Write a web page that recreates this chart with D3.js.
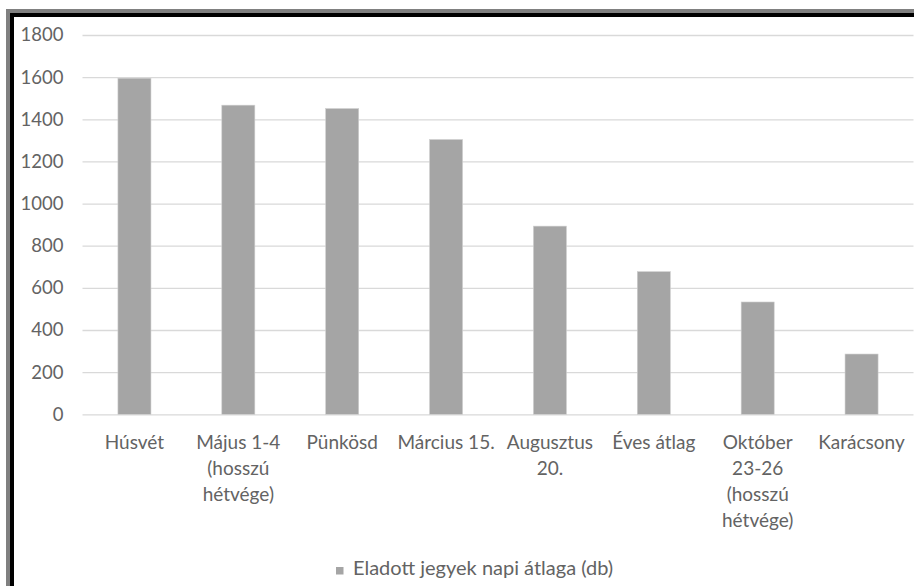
<!DOCTYPE html>
<html>
<head>
<meta charset="utf-8">
<script src="https://cdn.jsdelivr.net/npm/d3@7"></script>
<style>
  html, body { margin: 0; padding: 0; background: #fff; }
  svg { display: block; }
  text { font-family: Lato, "Open Sans", sans-serif; fill: #636363; }
</style>
</head>
<body>
<svg id="chart" width="914" height="586"></svg>
<script>
const categories = [
  ["Húsvét"],
  ["Május 1-4", "(hosszú", "hétvége)"],
  ["Pünkösd"],
  ["Március 15."],
  ["Augusztus", "20."],
  ["Éves átlag"],
  ["Október", "23-26", "(hosszú", "hétvége)"],
  ["Karácsony"]
];
const values = [1595, 1467, 1451, 1304, 893, 677, 533, 286];
const yTicks = [0, 200, 400, 600, 800, 1000, 1200, 1400, 1600, 1800];
const seriesName = "Eladott jegyek napi átlaga (db)";

const svg = d3.select("#chart");
const W = 914, H = 586;
const m = { left: 82.5, right: 913.5, top: 35, bottom: 414.3 };

// frame (cropped border)
svg.append("rect").attr("x", 8).attr("y", 11).attr("width", W + 20).attr("height", H + 20)
  .attr("fill", "none").attr("stroke", "#808080").attr("stroke-width", 4);
svg.append("rect").attr("x", 12).attr("y", 15).attr("width", W + 20).attr("height", H + 20)
  .attr("fill", "none").attr("stroke", "#000").attr("stroke-width", 4);

const keys = categories.map((c, i) => i);
const x = d3.scaleBand().domain(keys).range([m.left, m.right]).paddingInner(0.682).paddingOuter(0.341);
const y = d3.scaleLinear().domain([0, 1800]).range([m.bottom, m.top]);

// gridlines + y labels
const yAxis = d3.axisLeft(y).tickValues(yTicks).tickSize(-(m.right - m.left)).tickPadding(19).tickFormat(d3.format("d"));
const gy = svg.append("g").attr("transform", `translate(${m.left},0)`).call(yAxis);
gy.select(".domain").remove();
gy.selectAll(".tick line").attr("stroke", "#d9d9d9").attr("stroke-width", 1.3);
gy.selectAll(".tick text").attr("font-size", 18.5).attr("fill", "#636363")
  .style("font-family", "Lato, 'Open Sans', sans-serif");

// bars
svg.append("g").selectAll("rect").data(values).join("rect")
  .attr("x", (d, i) => x(i))
  .attr("width", x.bandwidth())
  .attr("y", d => y(d))
  .attr("height", d => y(0) - y(d))
  .attr("fill", "#a5a5a5")
  .attr("stroke", "#cfcfcf").attr("stroke-width", 0.6);

// x labels
const gx = svg.append("g");
categories.forEach((lines, i) => {
  const t = gx.append("text")
    .attr("x", x(i) + x.bandwidth() / 2)
    .attr("y", 449)
    .attr("text-anchor", "middle")
    .attr("font-size", 19);
  lines.forEach((ln, j) => {
    t.append("tspan").attr("x", x(i) + x.bandwidth() / 2).attr("dy", j === 0 ? 0 : 26).text(ln);
  });
});

// legend
const lg = svg.append("g");
lg.append("rect").attr("x", 336).attr("y", 567).attr("width", 7.5).attr("height", 7.5).attr("fill", "#a5a5a5");
lg.append("text").attr("x", 353).attr("y", 575).attr("font-size", 20).text(seriesName);
</script>
</body>
</html>
